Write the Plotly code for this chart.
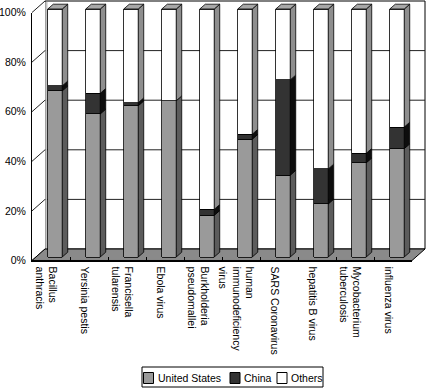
import plotly.graph_objects as go

# ---------------- data ----------------
categories = [
    "Bacillus<br>anthracis", "Yersinia pestis", "Francisella<br>tularensis",
    "Ebola virus", "Burkholderia<br>pseudomallei",
    "human<br>immunodeficiency<br>virus", "SARS Coronavirus",
    "hepatitis B virus", "Mycobacterium<br>tuberculosis", "influenza virus",
]
united_states = [67.0, 57.7, 61.0, 63.0, 16.8, 47.5, 33.0, 21.4, 38.0, 43.7]
china = [2.0, 8.3, 1.2, 0.0, 2.4, 2.0, 38.4, 14.1, 3.8, 8.7]
others = [31.0, 34.0, 37.8, 37.0, 80.8, 50.5, 28.6, 64.5, 58.2, 47.6]
series_names = ["United States", "China", "Others"]
y_ticks = [0, 20, 40, 60, 80, 100]
y_tick_text = [f"{v}%" for v in y_ticks]

# ---------------- styling / geometry ----------------
FONT = "Liberation Sans, Arial, sans-serif"
W, H = 427, 388
ML, MB = 32, 126
PW, PH = W - ML, H - MB            # paper size in px (395 x 262)
FRONT_X0, FRONT_X1 = 32, 412       # front plane x extent
FRONT_Y0 = 260.5                   # front plane 0% pixel row
PX_PER_PCT = 2.48
PX_PER_CAT = (FRONT_X1 - FRONT_X0) / len(categories)
DEPTH = (13.0, -11.5)              # back wall offset in px
BAR_OFF = (4.0, -3.5)              # bar front face offset in px
BAR_DEPTH = (5.5, -4.8)            # bar side depth in px
BAR_W = 0.38
LABEL_SHIFT = -5.0 / PX_PER_CAT

face_cols = ["#9a9a9a", "#333333", "#ffffff"]
side_cols = ["#5c5c5c", "#0d0d0d", "#8e8e8e"]
top_col = "#a8a8a8"


def fx(px):
    return (px - ML) / PW


def fy(py):
    return (PH - py) / PH


def path(points):
    s = "M " + " L ".join(f"{fx(x):.5f},{fy(y):.5f}" for x, y in points) + " Z"
    return s


n = len(categories)
xs = list(range(n))
series = [united_states, china, others]

fig = go.Figure()

# bars (front faces) on the bar axes
for vals, name, col in zip(series, series_names, face_cols):
    fig.add_trace(go.Bar(
        x=xs, y=vals, name=name, width=BAR_W, xaxis="x2", yaxis="y2",
        marker=dict(color=col, line=dict(color="black", width=0.8)),
        showlegend=False, hoverinfo="skip",
    ))

# side faces and top faces computed from the data
ddx = BAR_DEPTH[0] / PX_PER_CAT
ddy = -BAR_DEPTH[1] / PX_PER_PCT
cum = [0.0] * n
for vals, col in zip(series, side_cols):
    px_, py_ = [], []
    for i in xs:
        lo, hi = cum[i], cum[i] + vals[i]
        if vals[i] > 0:
            xr = i + BAR_W / 2
            px_ += [xr, xr + ddx, xr + ddx, xr, xr, None]
            py_ += [lo, lo + ddy, hi + ddy, hi, lo, None]
        cum[i] = hi
    fig.add_trace(go.Scatter(
        x=px_, y=py_, xaxis="x2", yaxis="y2", mode="lines", fill="toself",
        fillcolor=col, line=dict(color="black", width=0.8),
        showlegend=False, hoverinfo="skip",
    ))
tx, ty = [], []
for i in xs:
    xl, xr = i - BAR_W / 2, i + BAR_W / 2
    top = cum[i]
    tx += [xl, xr, xr + ddx, xl + ddx, xl, None]
    ty += [top, top, top + ddy, top + ddy, top, None]
fig.add_trace(go.Scatter(
    x=tx, y=ty, xaxis="x2", yaxis="y2", mode="lines", fill="toself",
    fillcolor=top_col, line=dict(color="black", width=0.8),
    showlegend=False, hoverinfo="skip",
))

# placeholder on the front axes so they render
fig.add_trace(go.Scatter(x=[None], y=[None], xaxis="x", yaxis="y",
                         showlegend=False, hoverinfo="skip"))

# ---------------- walls / floor ----------------
shapes = []
bx0, bx1 = FRONT_X0 + DEPTH[0], FRONT_X1 + DEPTH[0]
by0 = FRONT_Y0 + DEPTH[1]
by100 = by0 - 100 * PX_PER_PCT
fy100 = FRONT_Y0 - 100 * PX_PER_PCT
# back wall
shapes.append(dict(type="rect", xref="paper", yref="paper", layer="below",
                   x0=fx(bx0), x1=fx(bx1), y0=fy(by0), y1=fy(by100),
                   fillcolor="white", line=dict(color="black", width=1)))
# left wall
shapes.append(dict(type="path", xref="paper", yref="paper", layer="below",
                   path=path([(FRONT_X0, FRONT_Y0), (bx0, by0), (bx0, by100), (FRONT_X0, fy100)]),
                   fillcolor="white", line=dict(width=0)))
# back grid lines + left wall diagonals
for v in y_ticks:
    yb = by0 - v * PX_PER_PCT
    yf = FRONT_Y0 - v * PX_PER_PCT
    if 0 < v < 100:
        shapes.append(dict(type="line", xref="paper", yref="paper", layer="below",
                           x0=fx(bx0), x1=fx(bx1), y0=fy(yb), y1=fy(yb),
                           line=dict(color="#222222", width=1)))
    shapes.append(dict(type="line", xref="paper", yref="paper", layer="below",
                       x0=fx(FRONT_X0), x1=fx(bx0), y0=fy(yf), y1=fy(yb),
                       line=dict(color="#222222", width=1)))
# corner highlight
shapes.append(dict(type="line", xref="paper", yref="paper", layer="below",
                   x0=fx(bx0 + 1.5), x1=fx(bx0 + 1.5), y0=fy(by0), y1=fy(by100 + 1),
                   line=dict(color="#c4c4c4", width=2)))
# floor
shapes.append(dict(type="path", xref="paper", yref="paper", layer="below",
                   path=path([(FRONT_X0, FRONT_Y0), (bx0, by0), (bx1, by0), (FRONT_X1, FRONT_Y0)]),
                   fillcolor="#8a8a8a", line=dict(color="black", width=1)))

# ---------------- manual legend ----------------
LEG_Y0, LEG_Y1 = 367, 387
shapes.append(dict(type="rect", xref="paper", yref="paper",
                   x0=fx(142), x1=fx(323), y0=fy(LEG_Y1), y1=fy(LEG_Y0),
                   fillcolor="white", line=dict(color="black", width=1)))
legend_sq_x = [143.5, 230.0, 277.0]
legend_txt_x = [155.5, 242.0, 288.5]
annotations = []
for sx, tx_, name, col in zip(legend_sq_x, legend_txt_x, series_names, face_cols):
    shapes.append(dict(type="rect", xref="paper", yref="paper",
                       x0=fx(sx), x1=fx(sx + 10), y0=fy(383.5), y1=fy(372.5),
                       fillcolor=col, line=dict(color="black", width=1)))
    annotations.append(dict(text=name, xref="paper", yref="paper", x=fx(tx_), y=fy(378),
                            xanchor="left", yanchor="middle", showarrow=False,
                            font=dict(family=FONT, size=10.5, color="black")))

# ---------------- axes ----------------
bar_off_x = BAR_OFF[0] / PX_PER_CAT
x2_lo = -0.5 - bar_off_x
x2_hi = x2_lo + PW / PX_PER_CAT
y2_zero_px = FRONT_Y0 + BAR_OFF[1]
y2_lo = -(PH - y2_zero_px) / PX_PER_PCT
y2_hi = y2_zero_px / PX_PER_PCT

fig.update_layout(
    template="none",
    width=W, height=H,
    margin=dict(l=ML, r=0, t=0, b=MB, pad=0, autoexpand=False),
    paper_bgcolor="white", plot_bgcolor="rgba(0,0,0,0)",
    barmode="stack", bargap=0, showlegend=False,
    font=dict(family=FONT, size=10.5, color="black"),
    shapes=shapes, annotations=annotations,
    xaxis=dict(domain=[0, (FRONT_X1 - FRONT_X0) / PW], range=[-0.5, n - 0.5],
               tickmode="array", tickvals=[i + LABEL_SHIFT for i in xs], ticktext=categories,
               tickangle=90, ticks="", showgrid=False, zeroline=False,
               showline=True, linecolor="black", linewidth=1, automargin=False,
               ticklabelstandoff=3,
               tickfont=dict(family=FONT, size=10.5, color="black"),
               minor=dict(tickmode="array", tickvals=[i + 0.5 for i in xs[:-1]],
                          ticks="inside", ticklen=4, tickcolor="black", showgrid=False),
               anchor="y", fixedrange=True),
    yaxis=dict(domain=[fy(FRONT_Y0), fy(fy100)], range=[0, 100],
               tickmode="array", tickvals=y_ticks, ticktext=y_tick_text,
               ticks="", showgrid=False, zeroline=False, automargin=False,
               showline=True, linecolor="black", linewidth=1,
               ticklabelstandoff=3,
               tickfont=dict(family=FONT, size=10.5, color="black"),
               anchor="x", fixedrange=True),
    xaxis2=dict(domain=[0, 1], range=[x2_lo, x2_hi], visible=False, anchor="y2",
                automargin=False, fixedrange=True),
    yaxis2=dict(domain=[0, 1], range=[y2_lo, y2_hi], visible=False, anchor="x2",
                automargin=False, fixedrange=True),
)

fig.write_html("out.html",
               config={"displayModeBar": False, "staticPlot": True},
               post_script="document.body.style.margin='0';document.body.style.overflow='hidden';")
